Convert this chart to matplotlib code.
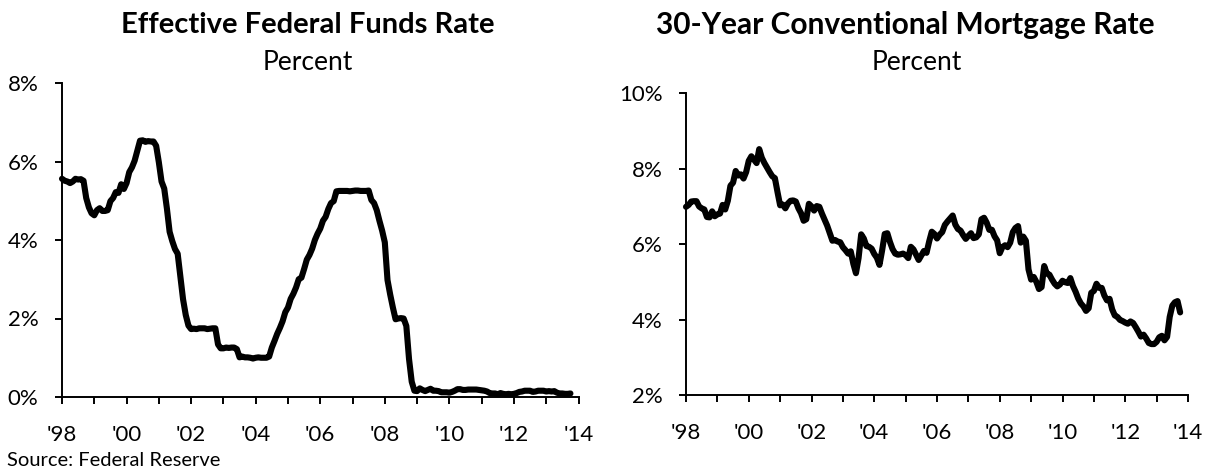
import matplotlib
matplotlib.use("Agg")
import matplotlib.pyplot as plt
import numpy as np

plt.rcParams['font.family'] = ['Lato', 'DejaVu Sans']

# Effective Federal Funds Rate, monthly, Jan 1998 - Oct 2013 (percent)
fed_funds = [
    5.56, 5.51, 5.49, 5.45, 5.49, 5.56, 5.54, 5.55, 5.51, 5.07, 4.83, 4.68,
    4.63, 4.76, 4.81, 4.74, 4.74, 4.76, 4.99, 5.07, 5.22, 5.20, 5.42, 5.30,
    5.45, 5.73, 5.85, 6.02, 6.27, 6.53, 6.54, 6.50, 6.52, 6.51, 6.51, 6.40,
    5.98, 5.49, 5.31, 4.80, 4.21, 3.97, 3.77, 3.65, 3.07, 2.49, 2.09, 1.82,
    1.73, 1.74, 1.73, 1.75, 1.75, 1.75, 1.73, 1.74, 1.75, 1.75, 1.34, 1.24,
    1.24, 1.26, 1.25, 1.26, 1.26, 1.22, 1.01, 1.03, 1.01, 1.01, 1.00, 0.98,
    1.00, 1.01, 1.00, 1.00, 1.00, 1.03, 1.26, 1.43, 1.61, 1.76, 1.93, 2.16,
    2.28, 2.50, 2.63, 2.79, 3.00, 3.04, 3.26, 3.50, 3.62, 3.78, 4.00, 4.16,
    4.29, 4.49, 4.59, 4.79, 4.94, 4.99, 5.24, 5.25, 5.25, 5.25, 5.25, 5.24,
    5.25, 5.26, 5.26, 5.25, 5.25, 5.25, 5.26, 5.02, 4.94, 4.76, 4.49, 4.24,
    3.94, 2.98, 2.61, 2.28, 1.98, 2.00, 2.01, 2.00, 1.81, 0.97, 0.39, 0.16,
    0.15, 0.22, 0.18, 0.15, 0.18, 0.21, 0.16, 0.16, 0.15, 0.12, 0.12, 0.12,
    0.11, 0.13, 0.16, 0.20, 0.20, 0.18, 0.18, 0.19, 0.19, 0.19, 0.19, 0.18,
    0.17, 0.16, 0.14, 0.10, 0.09, 0.09, 0.07, 0.10, 0.08, 0.07, 0.08, 0.07,
    0.08, 0.10, 0.13, 0.14, 0.16, 0.16, 0.16, 0.13, 0.14, 0.16, 0.16, 0.16,
    0.14, 0.15, 0.14, 0.15, 0.11, 0.09, 0.09, 0.08, 0.08, 0.09,
]

# 30-Year Conventional Mortgage Rate, monthly, Jan 1998 - Oct 2013 (percent)
mortgage = [
    6.99, 7.04, 7.13, 7.14, 7.14, 7.00, 6.95, 6.92, 6.72, 6.71, 6.87, 6.74,
    6.79, 6.81, 7.04, 6.92, 7.15, 7.55, 7.63, 7.94, 7.82, 7.85, 7.74, 7.91,
    8.21, 8.33, 8.24, 8.15, 8.52, 8.29, 8.15, 8.03, 7.91, 7.80, 7.75, 7.38,
    7.03, 7.05, 6.95, 7.08, 7.15, 7.16, 7.13, 6.95, 6.82, 6.62, 6.66, 7.07,
    7.00, 6.89, 7.01, 6.99, 6.81, 6.65, 6.49, 6.29, 6.09, 6.11, 6.07, 6.05,
    5.92, 5.84, 5.75, 5.81, 5.48, 5.23, 5.63, 6.26, 6.15, 5.95, 5.93, 5.88,
    5.74, 5.64, 5.45, 5.83, 6.27, 6.29, 6.06, 5.87, 5.75, 5.72, 5.73, 5.75,
    5.71, 5.63, 5.93, 5.86, 5.72, 5.58, 5.70, 5.82, 5.77, 6.07, 6.33, 6.27,
    6.15, 6.25, 6.32, 6.51, 6.60, 6.68, 6.76, 6.52, 6.40, 6.36, 6.24, 6.14,
    6.22, 6.29, 6.16, 6.18, 6.26, 6.66, 6.70, 6.57, 6.38, 6.38, 6.21, 6.10,
    5.76, 5.92, 5.97, 5.92, 6.04, 6.32, 6.43, 6.48, 6.04, 6.20, 6.09, 5.33,
    5.06, 5.13, 5.00, 4.81, 4.86, 5.42, 5.22, 5.19, 5.06, 4.95, 4.88, 4.93,
    5.03, 4.99, 4.97, 5.10, 4.89, 4.74, 4.56, 4.43, 4.35, 4.23, 4.30, 4.71,
    4.76, 4.95, 4.84, 4.84, 4.64, 4.51, 4.55, 4.27, 4.11, 4.07, 3.99, 3.96,
    3.92, 3.89, 3.95, 3.91, 3.80, 3.68, 3.55, 3.60, 3.50, 3.38, 3.35, 3.35,
    3.41, 3.53, 3.57, 3.45, 3.54, 4.07, 4.37, 4.46, 4.49, 4.19,
]

start_year = 1998
tick_years = list(range(1998, 2015))

left_title = "Effective Federal Funds Rate"
right_title = "30-Year Conventional Mortgage Rate"
subtitle = "Percent"
source = "Source: Federal Reserve"

fig = plt.figure(figsize=(12.06, 4.74), dpi=100)
W, H = 1206, 474

def make_axes(x0, x1, ytop, ybot):
    return fig.add_axes([x0 / W, 1 - ybot / H, (x1 - x0) / W, (ybot - ytop) / H])

ax1 = make_axes(62, 578.5, 83, 397)
ax2 = make_axes(686, 1188, 93.3, 395)

def style(ax, series, ymin, ymax, ystep):
    x = start_year + np.arange(len(series)) / 12.0
    ax.plot(x, series, color='black', lw=4.4, solid_joinstyle='round',
            solid_capstyle='round', clip_on=False)
    ax.set_xlim(1998, 2014)
    ax.set_ylim(ymin, ymax)
    ax.set_xticks(tick_years)
    lbls = []
    for y in tick_years:
        lbls.append("'%02d" % (y % 100) if (y - 1998) % 2 == 0 else "")
    ax.set_xticklabels(lbls)
    yt = np.arange(ymin, ymax + 0.001, ystep)
    ax.set_yticks(yt)
    ax.set_yticklabels(["%d%%" % v for v in yt])
    for s in ['top', 'right']:
        ax.spines[s].set_visible(False)
    for s in ['left', 'bottom']:
        ax.spines[s].set_linewidth(1.4)
        ax.spines[s].set_color('black')
    ax.tick_params(axis='both', direction='out', length=5, width=1.4,
                   labelsize=16, colors='black')
    ax.tick_params(axis='x', pad=15)
    ax.tick_params(axis='y', pad=12)

style(ax1, fed_funds, 0, 8, 2)
style(ax2, mortgage, 2, 10, 2)

fig.text(307.5 / W, 1 - 25 / H, left_title, ha='center', va='center',
         fontsize=21, fontweight='bold')
fig.text(308 / W, 1 - 62 / H, subtitle, ha='center', va='center', fontsize=19)
fig.text(905 / W, 1 - 25 / H, right_title, ha='center', va='center',
         fontsize=21.5, fontweight='bold')
fig.text(917 / W, 1 - 62 / H, subtitle, ha='center', va='center', fontsize=19)
fig.text(7 / W, 1 - 461 / H, source, ha='left', va='center', fontsize=14.5)

fig.savefig("out.png", dpi=100)
